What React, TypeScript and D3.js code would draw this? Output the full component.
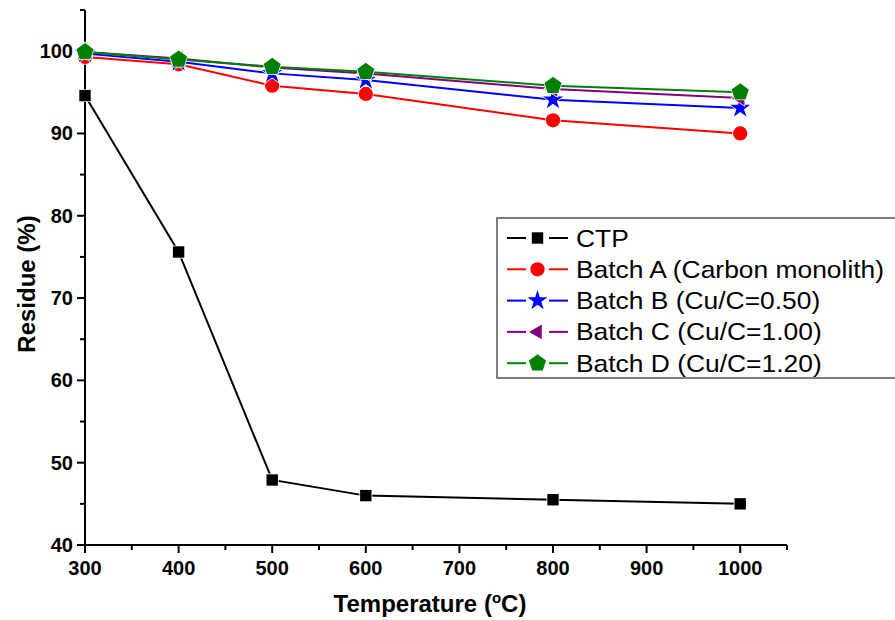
import React from "react";
import * as d3 from "d3";

const temps = [300, 400, 500, 600, 800, 1000];
const ctp = [94.6, 75.6, 47.9, 46.0, 45.5, 45.0];
const batchA = [99.3, 98.4, 95.8, 94.8, 91.6, 90.0];
const batchB = [99.7, 98.7, 97.3, 96.5, 94.1, 93.1];
const batchC = [99.9, 99.1, 98.0, 97.3, 95.4, 94.3];
const batchD = [99.9, 99.0, 98.1, 97.5, 95.8, 95.0];
const xTicks = [300, 400, 500, 600, 700, 800, 900, 1000];
const yTicks = [40, 50, 60, 70, 80, 90, 100];

const series = [
  { name: "CTP", values: ctp, color: "#000000", marker: "square" },
  { name: "Batch A (Carbon monolith)", values: batchA, color: "#ff0000", marker: "circle" },
  { name: "Batch B (Cu/C=0.50)", values: batchB, color: "#0000ff", marker: "star" },
  { name: "Batch C (Cu/C=1.00)", values: batchC, color: "#800080", marker: "triangle" },
  { name: "Batch D (Cu/C=1.20)", values: batchD, color: "#008000", marker: "pentagon" },
];

const W = 895;
const H = 620;
const x = d3.scaleLinear().domain([300, 1050]).range([85, 787]);
const y = d3.scaleLinear().domain([40, 105]).range([545, 10]);

// polygon helper for pentagon / left triangle
const polygon = (n: number, r: number, rot: number) => {
  const pts: [number, number][] = d3.range(n).map((i) => {
    const a = rot + (i * 2 * Math.PI) / n;
    return [r * Math.cos(a), r * Math.sin(a)];
  });
  return "M" + pts.map((p) => p.join(",")).join("L") + "Z";
};

const markerPath = (m: string) => {
  switch (m) {
    case "square":
      return d3.symbol(d3.symbolSquare, 130)()!;
    case "circle":
      return d3.symbol(d3.symbolCircle, 160)()!;
    case "star":
      return d3.symbol(d3.symbolStar, 125)()!;
    case "triangle":
      return polygon(3, 8.5, Math.PI);
    default:
      return polygon(5, 9, -Math.PI / 2);
  }
};

const line = d3
  .line<[number, number]>()
  .x((d) => x(d[0]))
  .y((d) => y(d[1]));

export default function App() {
  const font = "'Liberation Sans', Arial, sans-serif";
  const legX = 497;
  const legY = 218;
  const rowH = 31.3;
  return (
    <svg width={W} height={H} style={{ position: "absolute", left: 0, top: 0, background: "#fff" }} fontFamily={font}>
      {/* axes */}
      <line x1={x(300)} x2={x(1050)} y1={y(40)} y2={y(40)} stroke="#000" strokeWidth={2} />
      <line x1={x(300)} x2={x(300)} y1={y(40)} y2={y(105)} stroke="#000" strokeWidth={2} />
      {d3.range(300, 1051, 50).map((t) => (
        <line key={"xt" + t} x1={x(t)} x2={x(t)} y1={y(40)} y2={y(40) + (t % 100 === 0 ? 8 : 5)} stroke="#000" strokeWidth={2} />
      ))}
      {d3.range(40, 106, 5).map((t) => (
        <line key={"yt" + t} x1={x(300)} x2={x(300) - (t % 10 === 0 ? 8 : 5)} y1={y(t)} y2={y(t)} stroke="#000" strokeWidth={2} />
      ))}
      {xTicks.map((t) => (
        <text key={"xl" + t} x={x(t)} y={575} textAnchor="middle" fontWeight="bold" fontSize={20}>
          {t}
        </text>
      ))}
      {yTicks.map((t) => (
        <text key={"yl" + t} x={73} y={y(t) + 7} textAnchor="end" fontWeight="bold" fontSize={20}>
          {t}
        </text>
      ))}
      <text x={430} y={612} textAnchor="middle" fontWeight="bold" fontSize={24}>
        Temperature (<tspan dy={-9} fontSize={15}>o</tspan>
        <tspan dy={9}>C)</tspan>
      </text>
      <text transform={`translate(35,284) rotate(-90)`} textAnchor="middle" fontWeight="bold" fontSize={24}>
        Residue (%)
      </text>

      {/* series */}
      {series.map((s) => {
        const pts = temps.map((t, i) => [t, s.values[i]] as [number, number]);
        return (
          <g key={s.name}>
            <path d={line(pts)!} fill="none" stroke={s.color} strokeWidth={2} />
            {pts.map((p, i) => (
              <path
                key={i}
                d={markerPath(s.marker)}
                transform={`translate(${x(p[0])},${y(p[1])})`}
                fill={s.color}
                stroke="#fff"
                strokeWidth={1.5}
                style={{ paintOrder: "stroke" }}
              />
            ))}
          </g>
        );
      })}

      {/* legend */}
      <rect x={legX} y={legY} width={420} height={160} fill="#fff" stroke="#555" strokeWidth={1.5} />
      {series.map((s, i) => {
        const cy = legY + 20 + i * rowH;
        return (
          <g key={"lg" + s.name}>
            <line x1={507} x2={526} y1={cy} y2={cy} stroke={s.color} strokeWidth={2} />
            <line x1={549} x2={568} y1={cy} y2={cy} stroke={s.color} strokeWidth={2} />
            <path d={markerPath(s.marker)} transform={`translate(537.5,${cy})`} fill={s.color} />
            <text transform={`translate(576,${cy + 8.5}) scale(1.1,1)`} fontSize={24}>
              {s.name}
            </text>
          </g>
        );
      })}
    </svg>
  );
}
